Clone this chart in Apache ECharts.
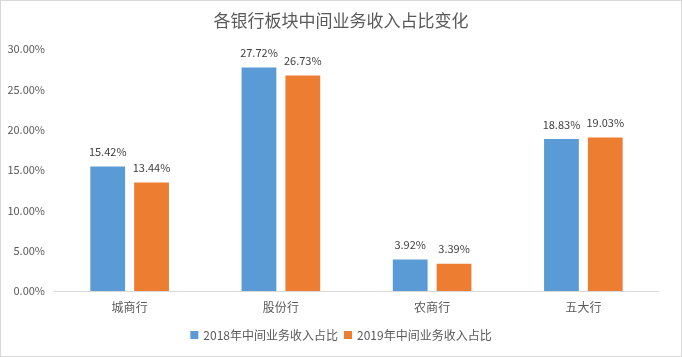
<!DOCTYPE html>
<html><head><meta charset="utf-8">
<script src="https://cdn.jsdelivr.net/npm/echarts@6/dist/echarts.min.js"></script>
<style>html,body{margin:0;padding:0;background:#fff}#c{width:682px;height:357px;box-sizing:border-box;border:1px solid #d9d9d9}</style>
</head><body><div id="c"></div>
<script>
const categories = ['城商行','股份行','农商行','五大行'];
const series2018 = [15.42, 27.72, 3.92, 18.83];
const series2019 = [13.44, 26.73, 3.39, 19.03];
const seriesNames = ['2018年中间业务收入占比','2019年中间业务收入占比'];
const chart = echarts.init(document.getElementById('c'));
const font = '"Microsoft YaHei","Noto Sans CJK SC",sans-serif';
const lbl = {show:true, position:'top', color:'#404040', fontSize:11, fontFamily:font, distance:9, formatter:p=>p.value.toFixed(2)+'%'};
chart.setOption({
  animation:false,
  title:{text:'各银行板块中间业务收入占比变化', left:'center', top:6, textStyle:{fontSize:17, fontWeight:'normal', color:'#595959', fontFamily:font}},
  legend:{bottom:10, left:'center', itemWidth:8, itemHeight:8, itemGap:6, icon:'rect', textStyle:{fontSize:12, color:'#595959', fontFamily:font}},
  grid:{left:53, right:22, top:48, bottom:65},
  xAxis:{type:'category', data:categories, axisLine:{lineStyle:{color:'#d9d9d9'}}, axisTick:{show:false}, axisLabel:{color:'#595959', fontSize:12, fontFamily:font, margin:10}},
  yAxis:{type:'value', min:0, max:30, interval:5, axisLine:{show:false}, axisTick:{show:false}, splitLine:{show:false}, axisLabel:{color:'#595959', fontSize:11, fontFamily:font, margin:9, formatter:v=>v.toFixed(2)+'%'}},
  series:[
    {name:seriesNames[0], type:'bar', data:series2018, barWidth:'23%', barGap:'26%', itemStyle:{color:'#5B9BD5'}, label:lbl},
    {name:seriesNames[1], type:'bar', data:series2019, barWidth:'23%', barGap:'26%', itemStyle:{color:'#ED7D31'}, label:lbl}
  ]
});
</script></body></html>
